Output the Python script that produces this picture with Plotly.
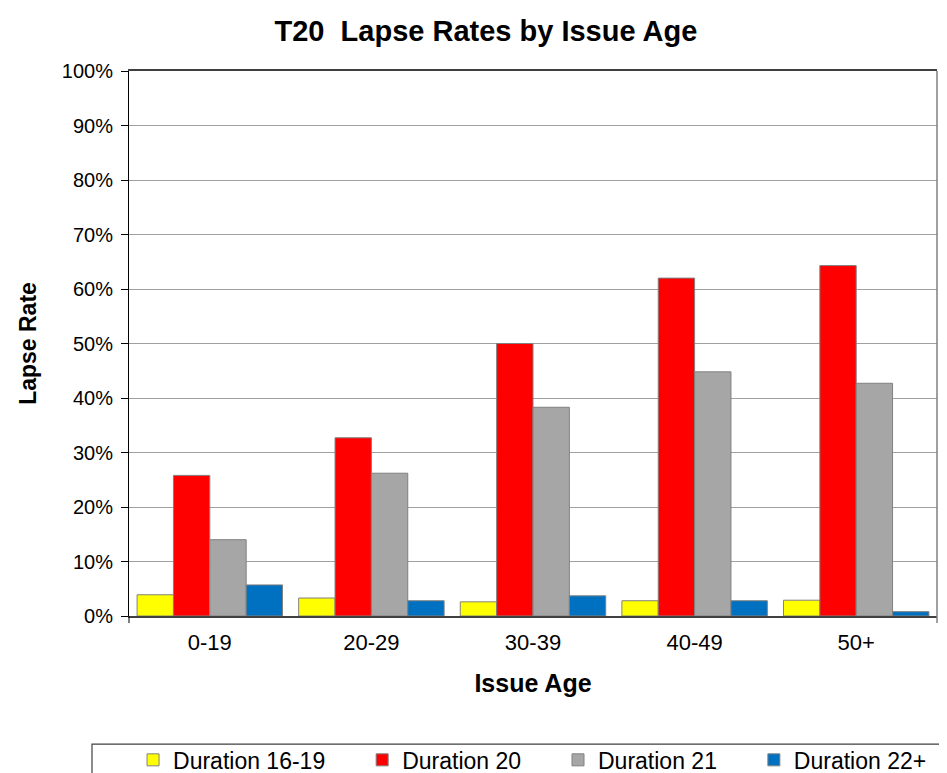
import plotly.graph_objects as go

# lapse rates (%)
issue_ages = ['0-19', '20-29', '30-39', '40-49', '50+']
dur_16_19 = [3.9, 3.3, 2.6, 2.8, 2.9]
dur_20 = [25.8, 32.7, 50.0, 62.0, 64.3]
dur_21 = [14.0, 26.2, 38.3, 44.8, 42.7]
dur_22p = [5.7, 2.8, 3.7, 2.8, 0.8]

series = [
    ('Duration 16-19', dur_16_19, '#FFFF00'),
    ('Duration 20', dur_20, '#FF0000'),
    ('Duration 21', dur_21, '#A6A6A6'),
    ('Duration 22+', dur_22p, '#0070C0'),
]

FONT = 'Arial, Liberation Sans, sans-serif'
pad = '\u00a0' * 5  # legend spacing like the excel one

fig = go.Figure()
for i, (name, vals, col) in enumerate(series):
    fig.add_trace(
        go.Bar(
            x=issue_ages,
            y=vals,
            name=name + (pad if i < len(series) - 1 else ''),
            marker_color=col,
            marker_line_color='#808080',
            marker_line_width=1,
        )
    )

# page body has an 8px margin, so the figure is sized to what's left of the window
fig.update_layout(
    width=939, height=765,
    margin=dict(l=121, r=10, t=63, b=157, autoexpand=False),
    plot_bgcolor='white', paper_bgcolor='white',
    barmode='group', bargap=0.1, bargroupgap=0,
    font=dict(family=FONT, size=21, color='black'),
    title=dict(
        text='<b>T20  Lapse Rates by Issue Age</b>',
        x=0.509, xref='container', xanchor='center',
        y=0.970, yref='container', yanchor='middle',
        font=dict(family=FONT, size=29, color='black'),
    ),
    showlegend=True,
    legend=dict(
        orientation='h',
        x=0.005, xanchor='left',
        y=-0.264, yanchor='middle',
        font=dict(family=FONT, size=23),
        bgcolor='rgba(0,0,0,0)',
        traceorder='normal',
    ),
)

fig.update_yaxes(
    range=[0, 100],
    dtick=10,
    ticksuffix='%',
    tickfont=dict(size=20),
    showgrid=True, gridcolor='#A0A0A0', gridwidth=1,
    showline=True, linecolor='black', linewidth=1,
    ticks='outside', ticklen=7, tickcolor='black',
    ticklabelstandoff=4,
    zeroline=False, automargin=False,
    title=dict(text='<b>Lapse Rate</b>', font=dict(size=23), standoff=18),
)
fig.update_xaxes(
    showline=True, linecolor='#404040', linewidth=1.5, mirror=True,
    ticks='', ticklabelstandoff=6,
    tickfont=dict(size=22),
    automargin=False,
    title=dict(text='<b>Issue Age</b>', font=dict(size=25), standoff=20),
)

# right border of the plot area and little axis stubs below the baseline
fig.add_shape(type='line', xref='paper', yref='paper', x0=1, x1=1, y0=-0.013, y1=1,
              line=dict(color='#808080', width=1.5))
fig.add_shape(type='line', xref='paper', yref='paper', x0=0, x1=0, y0=-0.013, y1=0,
              line=dict(color='black', width=1))
# legend frame, running off the bottom/right like the original
fig.add_shape(type='rect', xref='paper', yref='paper',
              x0=-0.0458, x1=1.05, y0=-0.235, y1=-0.35,
              line=dict(color='#404040', width=1.2), fillcolor='rgba(0,0,0,0)')

fig.write_html("out.html")
